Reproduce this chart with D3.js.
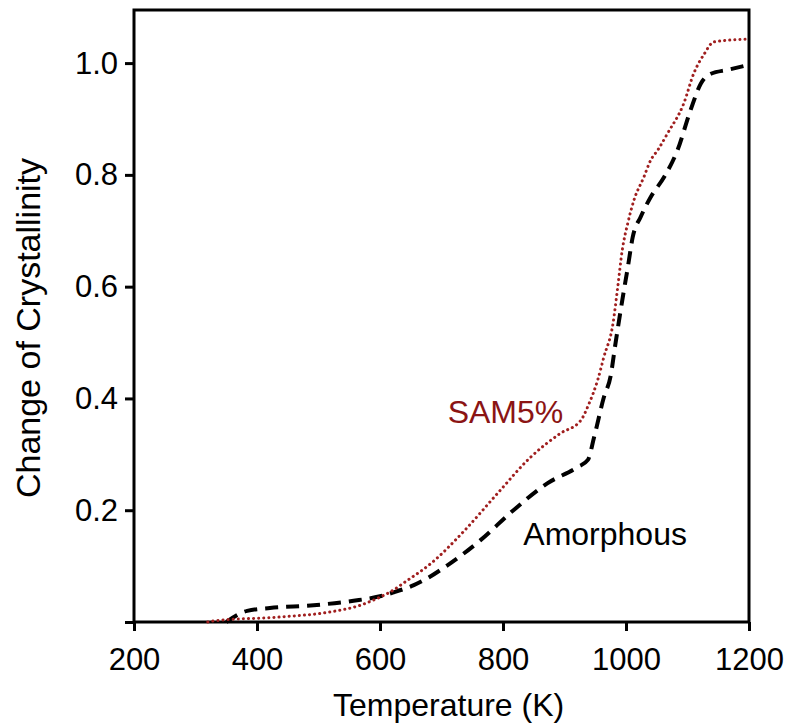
<!DOCTYPE html>
<html>
<head>
<meta charset="utf-8">
<script src="https://cdn.jsdelivr.net/npm/d3@7"></script>
<style>
  html, body { margin: 0; padding: 0; background: #fff; }
  svg { display: block; font-family: "Liberation Sans", Arial, sans-serif; }
</style>
</head>
<body>
<div id="chart"></div>
<script>
// values
const amorphousT = [350, 384, 421, 492, 557, 600, 622, 655, 675, 709, 763, 817, 872, 921, 938, 948, 964, 975, 983, 994, 1003, 1011, 1024, 1040, 1062, 1084, 1105, 1122, 1138, 1166, 1200]
const amorphousV = [0, 0.02, 0.025, 0.030, 0.038, 0.046, 0.053, 0.066, 0.077, 0.101, 0.146, 0.200, 0.248, 0.277, 0.290, 0.330, 0.402, 0.440, 0.499, 0.576, 0.635, 0.689, 0.725, 0.760, 0.796, 0.845, 0.916, 0.964, 0.981, 0.988, 0.997]

const samT = [320, 329, 438, 519, 568, 601, 617, 644, 682, 736, 791, 845, 894, 926, 940, 954, 964, 979, 986, 994, 1003, 1013, 1029, 1040, 1052, 1068, 1094, 1110, 1127, 1143, 1200]
const samV = [0, 0.002, 0.009, 0.018, 0.030, 0.045, 0.054, 0.074, 0.104, 0.162, 0.230, 0.295, 0.338, 0.360, 0.391, 0.433, 0.474, 0.535, 0.594, 0.666, 0.714, 0.755, 0.796, 0.826, 0.845, 0.875, 0.928, 0.981, 1.016, 1.038, 1.043]

const xTicks = [200, 400, 600, 800, 1000, 1200]
const yTicks = [0, 0.2, 0.4, 0.6, 0.8, 1.0]

const W = 786, H = 725
const margin = { top: 10, right: 37, bottom: 103, left: 134 }
const iw = W - margin.left - margin.right
const ih = H - margin.top - margin.bottom

const svg = d3.select('#chart').append('svg')
  .attr('width', W)
  .attr('height', H)

const g = svg.append('g').attr('transform', `translate(${margin.left},${margin.top})`)

const x = d3.scaleLinear().domain([200, 1200]).range([0, iw])
const y = d3.scaleLinear().domain([0, 1.095]).range([ih, 0])

// axes
const xAxis = g.append('g')
  .attr('transform', `translate(0,${ih})`)
  .call(d3.axisBottom(x).tickValues(xTicks).tickSize(9).tickPadding(17).tickFormat(d3.format('d')))
const yAxis = g.append('g')
  .call(d3.axisLeft(y).tickValues(yTicks).tickSize(9).tickPadding(7)
    .tickFormat(d => d === 0 ? '' : d3.format('.1f')(d)))

for (const ax of [xAxis, yAxis]) {
  ax.select('.domain').remove()
  ax.selectAll('.tick line').attr('stroke', '#000').attr('stroke-width', 3)
  ax.selectAll('.tick text').attr('fill', '#000').style('font-size', '31px')
}

// frame
g.append('rect')
  .attr('x', 0).attr('y', 0)
  .attr('width', iw).attr('height', ih)
  .attr('fill', 'none')
  .attr('stroke', '#000')
  .attr('stroke-width', 3)

const line = d3.line()
  .x(d => x(d[0]))
  .y(d => y(d[1]))
  .curve(d3.curveMonotoneX)

const amorphous = amorphousT.map((t, i) => [t, amorphousV[i]])
const sam = samT.map((t, i) => [t, samV[i]])

g.append('path')
  .datum(amorphous)
  .attr('d', line)
  .attr('fill', 'none')
  .attr('stroke', '#000')
  .attr('stroke-width', 4)
  .attr('stroke-dasharray', '13 8')

g.append('path')
  .datum(sam)
  .attr('d', line)
  .attr('fill', 'none')
  .attr('stroke', '#a01f1f')
  .attr('stroke-width', 3)
  .attr('stroke-linecap', 'round')
  .attr('stroke-dasharray', '0.1 5')

// series labels
g.append('text')
  .attr('x', x(710))
  .attr('y', y(0.356))
  .attr('fill', '#8b1414')
  .style('font-size', '32px')
  .text('SAM5%')

g.append('text')
  .attr('x', x(833))
  .attr('y', y(0.137))
  .attr('fill', '#000')
  .style('font-size', '32px')
  .text('Amorphous')

// axis titles
svg.append('text')
  .attr('x', 333)
  .attr('y', 716)
  .style('font-size', '32px')
  .text('Temperature (K)')

svg.append('text')
  .attr('transform', 'translate(40,328) rotate(-90)')
  .attr('text-anchor', 'middle')
  .style('font-size', '34px')
  .text('Change of Crystallinity')
</script>
</body>
</html>
